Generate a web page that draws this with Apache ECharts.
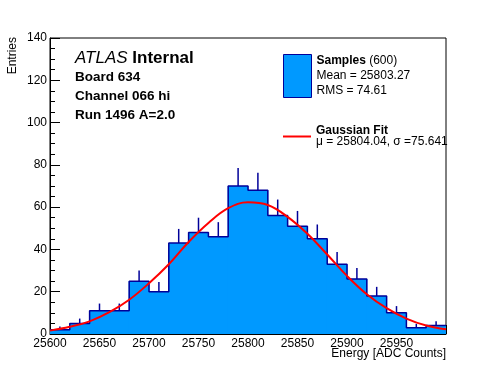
<!DOCTYPE html>
<html>
<head>
<meta charset="utf-8">
<script src="https://cdn.jsdelivr.net/npm/echarts@6/dist/echarts.min.js"></script>
<style>html,body{margin:0;padding:0;background:#fff}#c{width:496px;height:372px}</style>
</head>
<body>
<div id="c"></div>
<script>
// ---- data ----
const binStarts = [25600,25620,25640,25660,25680,25700,25720,25740,25760,25780,25800,25820,25840,25860,25880,25900,25920,25940,25960,25980];
const binCounts = [2,5,11,11,25,20,43,48,46,70,68,56,51,45,33,26,18,10,3,4];
const binErrors = [1.5,2.3,3.4,3.4,5.0,4.6,6.7,7.0,6.9,8.5,8.3,7.6,7.2,6.8,5.8,5.2,4.3,3.2,1.8,2.0];
const BIN_WIDTH = 20;
const fitX = [25600,25620,25640,25660,25680,25700,25720,25740,25760,25780,25800,25820,25840,25860,25880,25900,25920,25940,25960,25980,26000];
const fitY = [1.6,3.4,6.0,10.3,16.2,24.0,33.0,43.5,52.5,59.5,62.3,61.0,55.4,47.4,37.6,27.5,18.8,12.2,7.3,4.0,2.2];
const headerLines = ['Board 634','Channel 066 hi','Run 1496 A=2.0'];
const sampleStats = ['Mean = 25803.27','RMS = 74.61'];
const fitStats = '\u03bc = 25804.04, \u03c3 =75.641';

const FONT = 'Liberation Sans, Arial, Helvetica, sans-serif';
const FILL = '#0099ff';
const EDGE = '#000099';

const chart = echarts.init(document.getElementById('c'), null, {renderer: 'canvas'});

const fillData = binStarts.map((x, i) => [x, binCounts[i]]);
const outlineData = binStarts.map((x, i) => [x, binCounts[i]]);
outlineData.push([binStarts[binStarts.length - 1] + BIN_WIDTH, binCounts[binCounts.length - 1]]);
const errData = binStarts.map((x, i) => [x + BIN_WIDTH / 2, binCounts[i], binErrors[i]]);
const fitData = fitX.map((x, i) => [x, fitY[i]]);

const option = {
  animation: false,
  backgroundColor: '#ffffff',
  grid: {left: 50, right: 50, top: 38, bottom: 38, show: true, borderColor: '#000', borderWidth: 1,
         backgroundColor: 'transparent', containLabel: false, outerBoundsMode: 'none'},
  title: [
    {left: 75, top: 50, padding: 0,
     text: '{i|ATLAS} {b|Internal}',
     textStyle: {fontSize: 17, fontFamily: FONT, color: '#000',
       rich: {
         i: {fontStyle: 'italic', fontWeight: 'normal', fontSize: 17, fontFamily: FONT, color: '#000'},
         b: {fontWeight: 'bold', fontSize: 17, fontFamily: FONT, color: '#000'}
       }}},
    {left: 75, top: 68, padding: 0,
     text: headerLines.join('\n'),
     textStyle: {fontSize: 13.5, fontWeight: 'bold', lineHeight: 19, fontFamily: FONT, color: '#000'}}
  ],
  legend: [
    {left: 283, top: 53.5, padding: 0, orient: 'vertical', selectedMode: false,
     itemWidth: 28, itemHeight: 43,
     data: [{name: 'Samples', icon: 'rect', itemStyle: {color: FILL, borderColor: EDGE, borderWidth: 1}}],
     formatter: () => '{b|Samples} (600)\n' + sampleStats.join('\n'),
     textStyle: {fontSize: 12, lineHeight: 15, color: '#000', fontFamily: FONT,
       rich: {b: {fontWeight: 'bold', fontSize: 12, lineHeight: 15, color: '#000', fontFamily: FONT}}}},
    {left: 283, top: 125, padding: 0, orient: 'vertical', selectedMode: false,
     itemWidth: 28, itemHeight: 2,
     data: [{name: 'Gaussian Fit', icon: 'rect', itemStyle: {color: '#ff0000'}}],
     formatter: () => '{b|Gaussian Fit}\n' + fitStats,
     textStyle: {fontSize: 12, lineHeight: 11, color: '#000', fontFamily: FONT,
       rich: {b: {fontWeight: 'bold', fontSize: 12, lineHeight: 11, color: '#000', fontFamily: FONT}}}}
  ],
  xAxis: {
    type: 'value', min: 25600, max: 26000, interval: 50,
    name: 'Energy [ADC Counts]', nameLocation: 'end', nameGap: 0, nameMoveOverlap: false,
    nameTextStyle: {align: 'right', verticalAlign: 'top', padding: [14, 0, 0, 0], fontSize: 12, color: '#000', fontFamily: FONT},
    axisLine: {show: true, onZero: false, lineStyle: {color: '#000', width: 1}},
    axisTick: {show: true, inside: true, length: 9, lineStyle: {color: '#000', width: 1}},
    minorTick: {show: true, splitNumber: 5, length: 4, lineStyle: {color: '#000', width: 1}},
    axisLabel: {margin: 4, fontSize: 12, color: '#000', fontFamily: FONT, showMaxLabel: false, formatter: v => String(v)},
    splitLine: {show: false}, minorSplitLine: {show: false}
  },
  yAxis: {
    type: 'value', min: 0, max: 140, interval: 20,
    axisLine: {show: true, onZero: false, lineStyle: {color: '#000', width: 1}},
    axisTick: {show: true, inside: true, length: 10, lineStyle: {color: '#000', width: 1}},
    minorTick: {show: true, splitNumber: 4, length: 5, lineStyle: {color: '#000', width: 1}},
    axisLabel: {margin: 3, fontSize: 12, color: '#000', fontFamily: FONT},
    splitLine: {show: false}, minorSplitLine: {show: false}
  },
  graphic: [
    {type: 'text', x: 12.5, y: 37, rotation: Math.PI / 2, z: 10,
     style: {text: 'Entries', align: 'right', verticalAlign: 'middle', fontSize: 12, fontFamily: FONT, fill: '#000'}}
  ],
  series: [
    {name: 'Samples', type: 'custom', data: fillData, encode: {x: 0, y: 1}, clip: true, z: 1,
     itemStyle: {color: FILL},
     renderItem: (params, api) => {
       const x0 = api.value(0), c = api.value(1);
       const p0 = api.coord([x0, c]);
       const p1 = api.coord([x0 + BIN_WIDTH, 0]);
       return {type: 'rect', shape: {x: p0[0] - 0.5, y: p0[1], width: p1[0] - p0[0] + 1, height: p1[1] - p0[1]},
               style: {fill: FILL, stroke: null}};
     }},
    {name: 'outline', type: 'line', data: outlineData, step: 'end', showSymbol: false, z: 2,
     lineStyle: {color: EDGE, width: 1.5}, silent: true},
    {name: 'errors', type: 'custom', data: errData, encode: {x: 0, y: 1}, clip: true, z: 3,
     renderItem: (params, api) => {
       const x = api.value(0), c = api.value(1), e = api.value(2);
       const a = api.coord([x, c]);
       const b = api.coord([x, c + e]);
       return {type: 'line', shape: {x1: a[0], y1: a[1], x2: b[0], y2: b[1]},
               style: {stroke: EDGE, lineWidth: 1.5}};
     }},
    {name: 'Gaussian Fit', type: 'line', data: fitData, smooth: 0.4, showSymbol: false, z: 4,
     itemStyle: {color: '#ff0000'}, lineStyle: {color: '#ff0000', width: 2}}
  ]
};
chart.setOption(option);
</script>
</body>
</html>
